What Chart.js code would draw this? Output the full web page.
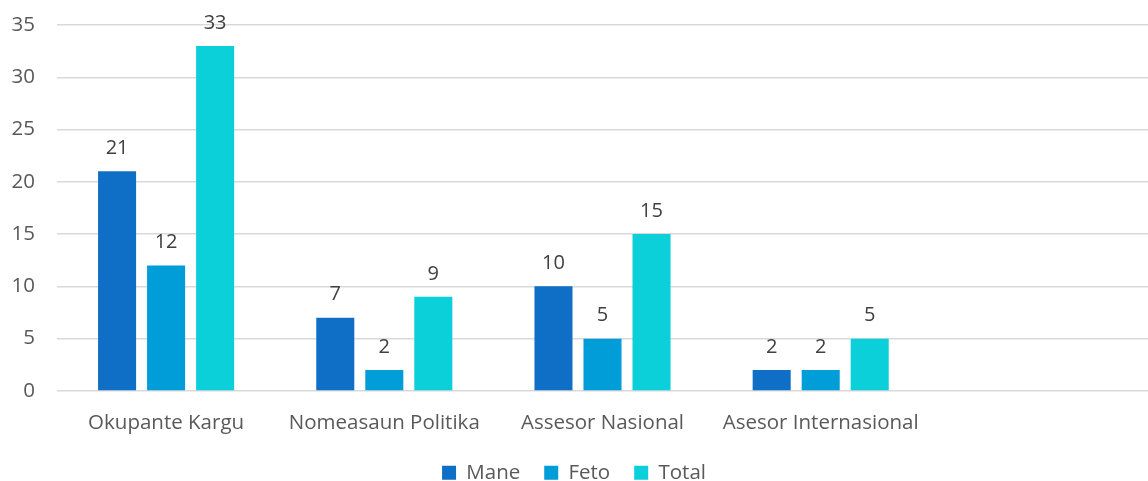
<!DOCTYPE html>
<html>
<head>
<meta charset="utf-8">
<script src="https://cdn.jsdelivr.net/npm/chart.js@4"></script>
<style>
  html, body { margin: 0; padding: 0; background: #fff; }
  #wrap { width: 1148px; height: 481px; }
</style>
</head>
<body>
<div id="wrap"><canvas id="myChart"></canvas></div>
<script>
// categories (fifth slot is empty in the original)
var categories = ['Okupante Kargu', 'Nomeasaun Politika', 'Assesor Nasional', 'Asesor Internasional', ''];
var mane  = [21, 7, 10, 2, null];
var feto  = [12, 2, 5, 2, null];
var total = [33, 9, 15, 5, null];
var yTicks = [0, 5, 10, 15, 20, 25, 30, 35];

var textColor = '#595959';
var fontFamily = '"Open Sans", sans-serif';

// draw the value above each bar
var valueLabels = {
  id: 'valueLabels',
  afterDatasetsDraw: function(chart) {
    var ctx = chart.ctx;
    ctx.save();
    ctx.fillStyle = '#404040';
    ctx.font = '20px ' + fontFamily;
    ctx.textAlign = 'center';
    ctx.textBaseline = 'bottom';
    chart.data.datasets.forEach(function(ds, i) {
      var meta = chart.getDatasetMeta(i);
      meta.data.forEach(function(bar, j) {
        if (ds.data[j] == null) return;
        ctx.fillText(ds.data[j], bar.x, bar.y - 13);
      });
    });
    ctx.restore();
  }
};

const data = {
  labels: categories,
  datasets: [
    { label: 'Mane', data: mane, backgroundColor: '#0f6fc6' },
    { label: 'Feto', data: feto, backgroundColor: '#009dd9' },
    { label: 'Total', data: total, backgroundColor: '#0bd0d9' }
  ]
};

const config = {
  type: 'bar',
  data: data,
  plugins: [valueLabels],
  options: {
    responsive: true,
    maintainAspectRatio: false,
    animation: false,
    layout: { padding: { top: 25, right: 0, left: 0, bottom: -12 } },
    datasets: {
      bar: { categoryPercentage: 0.674, barPercentage: 0.776 }
    },
    scales: {
      x: {
        afterFit: function(scale) { scale.height -= 9; },
        grid: { display: false },
        border: { display: false },
        ticks: { color: textColor, font: { family: fontFamily, size: 20.5 }, padding: 12, maxRotation: 0 }
      },
      y: {
        min: 0,
        max: 35,
        afterFit: function(scale) {
          scale.width = 57;
          scale.paddingTop = 0;
          scale.paddingBottom = 0;
        },
        afterBuildTicks: function(scale) {
          scale.ticks = yTicks.map(function(v) { return { value: v }; });
        },
        grid: { color: '#d9d9d9', lineWidth: 1.5, drawTicks: false },
        border: { display: false },
        ticks: { color: textColor, font: { family: fontFamily, size: 20.5 }, padding: 22 }
      }
    },
    plugins: {
      tooltip: { enabled: false },
      legend: {
        position: 'bottom',
        labels: {
          color: textColor,
          font: { family: fontFamily, size: 20.5 },
          boxWidth: 14,
          boxHeight: 14,
          padding: 24
        }
      }
    }
  }
};

new Chart(document.getElementById('myChart'), config);
</script>
</body>
</html>
